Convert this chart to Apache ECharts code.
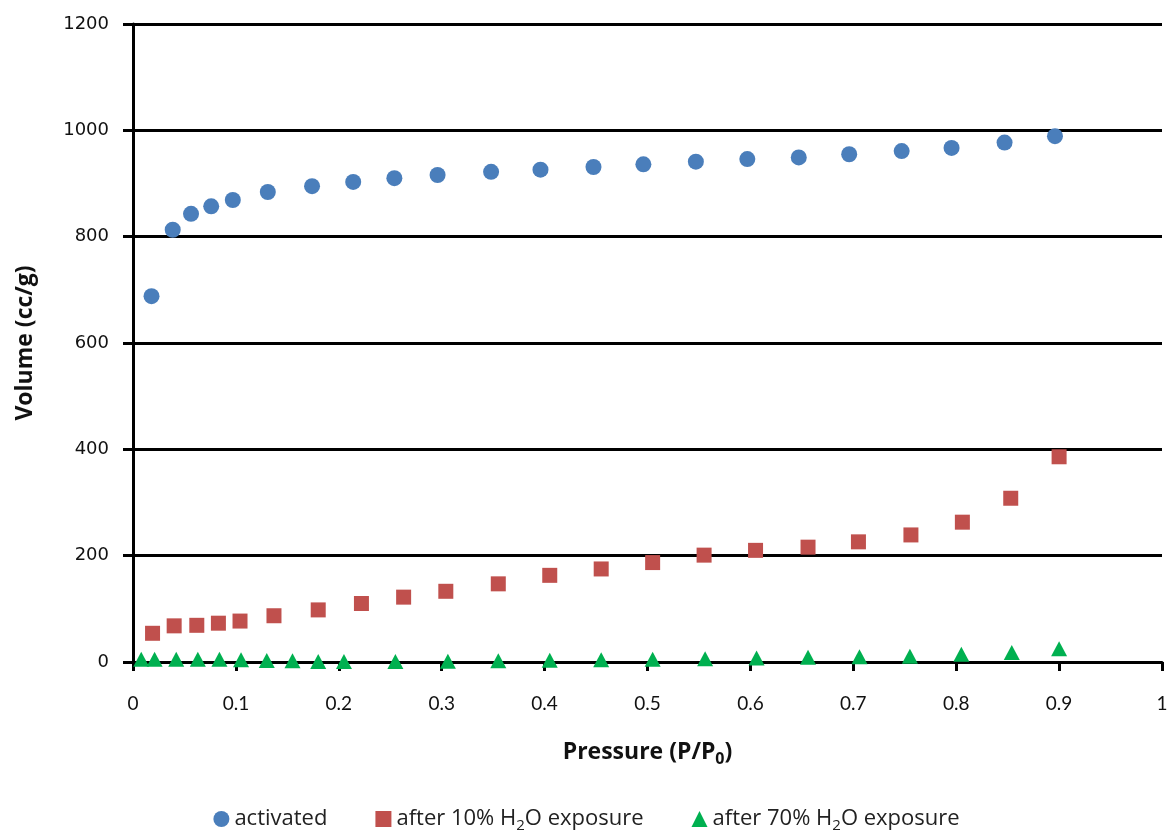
<!DOCTYPE html>
<html><head><meta charset="utf-8">
<script src="https://cdn.jsdelivr.net/npm/echarts@6/dist/echarts.min.js"></script>
<style>html,body{margin:0;padding:0;background:#fff}#c{width:1173px;height:834px}</style>
</head><body><div id="c"></div>
<script>
var seriesNames = ['activated', 'after 10% H2O exposure', 'after 70% H2O exposure'];
var activatedP = [0.018,0.0386,0.0564,0.076,0.097,0.131,0.174,0.214,0.254,0.296,0.348,0.396,0.4475,0.496,0.547,0.597,0.647,0.696,0.747,0.7955,0.847,0.896];
var activatedV = [688,813,843,857,869,884,895,903,910,916,922,926,931,936,941,946,949,955,961,967,977,989];
var h2o10P = [0.019,0.040,0.062,0.083,0.104,0.137,0.180,0.222,0.263,0.304,0.355,0.405,0.455,0.505,0.555,0.605,0.656,0.705,0.756,0.806,0.853,0.900];
var h2o10V = [54,68,69,73,77,87,98,110,122,133,147,163,175,187,201,210,216,226,239,263,308,386];
var h2o70P = [0.008,0.021,0.042,0.063,0.084,0.105,0.130,0.155,0.180,0.205,0.255,0.306,0.355,0.405,0.455,0.505,0.556,0.606,0.656,0.706,0.755,0.805,0.854,0.900];
var h2o70V = [5,5,5,5,5,4,3,2.5,1,1,1,1.5,2.5,3.5,4,5,6,7.5,9,10,11,14.5,18,25];
var xTicks = [0,0.1,0.2,0.3,0.4,0.5,0.6,0.7,0.8,0.9,1];
var yTicks = [0,200,400,600,800,1000,1200];

function pairs(xs, ys){ return xs.map(function(x,i){ return [x, ys[i]]; }); }

var chart = echarts.init(document.getElementById('c'), null, {renderer:'canvas'});
var legendRich = {
  t:{fontFamily:'Open Sans', fontSize:22, color:'#222'},
  s:{fontFamily:'Open Sans', fontSize:15, color:'#222', padding:[13,0,0,0]}
};
chart.setOption({
  animation:false,
  backgroundColor:'#fff',
  grid:{left:133, top:24, right:11, bottom:172, containLabel:false},
  xAxis:{
    type:'value', min:0, max:1, interval:0.1,
    name:'{t|Pressure (P/P}{s|0}{t|)}', nameLocation:'middle', nameGap:75,
    nameTextStyle:{rich:{
      t:{fontFamily:'Open Sans', fontWeight:'bold', fontSize:23, color:'#111'},
      s:{fontFamily:'Open Sans', fontWeight:'bold', fontSize:16, color:'#111', padding:[14,0,0,0]}
    }},
    axisLine:{show:true, onZero:false, lineStyle:{color:'#000', width:3}},
    axisTick:{show:true, length:9, inside:false, lineStyle:{color:'#000', width:3}},
    axisLabel:{margin:32, fontFamily:'Lato', fontSize:19, color:'#111',
      formatter:function(v){ var r=Math.round(v*10)/10; return xTicks.indexOf(r)>=0 ? String(r) : ''; }},
    splitLine:{show:false}
  },
  yAxis:{
    type:'value', min:0, max:1200, interval:200,
    name:'Volume (cc/g)', nameLocation:'middle', nameGap:96,
    nameTextStyle:{fontFamily:'Open Sans', fontWeight:'bold', fontSize:23, color:'#111'},
    axisLine:{show:true, lineStyle:{color:'#000', width:3}},
    axisTick:{show:true, length:10, lineStyle:{color:'#000', width:3}},
    axisLabel:{margin:24, fontFamily:'DejaVu Sans', fontSize:18, color:'#111',
      formatter:function(v){ return yTicks.indexOf(v)>=0 ? String(v) : ''; }},
    splitLine:{show:true, lineStyle:{color:'#000', width:3}}
  },
  legend:{
    top:803, left:'center', itemGap:48, itemWidth:16, itemHeight:16,
    data:[{name:seriesNames[0], icon:'circle'},{name:seriesNames[1], icon:'rect'},{name:seriesNames[2], icon:'triangle'}],
    formatter:function(n){
      if(n===seriesNames[0]) return '{t|activated}';
      if(n===seriesNames[1]) return '{t|after 10% H}{s|2}{t|O exposure}';
      return '{t|after 70% H}{s|2}{t|O exposure}';
    },
    textStyle:{rich:legendRich}
  },
  series:[
    {name:seriesNames[0], type:'scatter', symbol:'circle', symbolSize:16,
     itemStyle:{color:'#4A7EBB', opacity:1}, data:pairs(activatedP, activatedV)},
    {name:seriesNames[1], type:'scatter', symbol:'rect', symbolSize:15,
     itemStyle:{color:'#C0504D', opacity:1}, data:pairs(h2o10P, h2o10V)},
    {name:seriesNames[2], type:'scatter', symbol:'triangle', symbolSize:[16,15],
     itemStyle:{color:'#00B050', opacity:1}, data:pairs(h2o70P, h2o70V)}
  ]
});
</script></body></html>
